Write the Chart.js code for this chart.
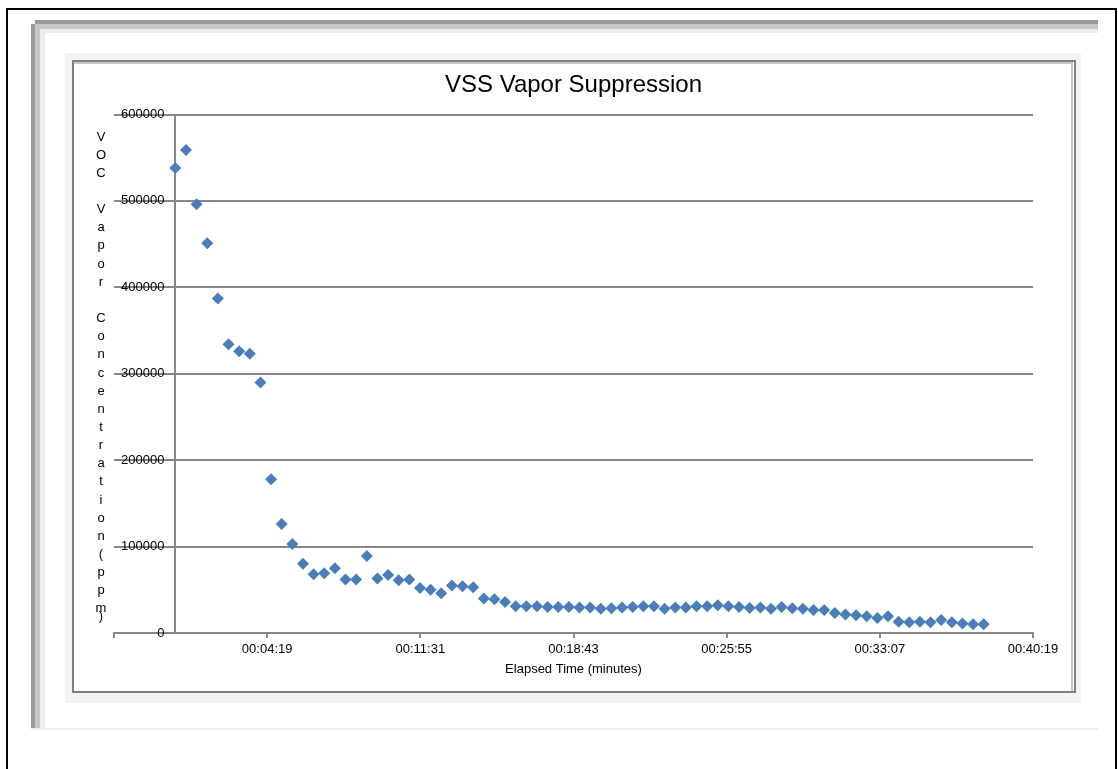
<!DOCTYPE html>
<html>
<head>
<meta charset="utf-8">
<title>VSS Vapor Suppression</title>
<script src="https://cdn.jsdelivr.net/npm/chart.js@4.4.1/dist/chart.umd.min.js"></script>
<style>
  html, body { margin: 0; padding: 0; background: #fff; }
  canvas { display: block; }
</style>
</head>
<body>
<canvas id="graficoVapor" width="1118" height="769"></canvas>
<script>
// tiempo transcurrido de cada lectura (segundos)
var segundos = [
  0, 30, 60, 90, 120, 150, 180, 210, 240, 270,
  300, 330, 360, 390, 420, 450, 480, 510, 540, 570,
  600, 630, 660, 690, 720, 750, 780, 810, 840, 870,
  900, 930, 960, 990, 1020, 1050, 1080, 1110, 1140, 1170,
  1200, 1230, 1260, 1290, 1320, 1350, 1380, 1410, 1440, 1470,
  1500, 1530, 1560, 1590, 1620, 1650, 1680, 1710, 1740, 1770,
  1800, 1830, 1860, 1890, 1920, 1950, 1980, 2010, 2040, 2070,
  2100, 2130, 2160, 2190, 2220, 2250, 2280
];

// concentracion de vapor VOC (ppm)
var vocPpm = [
  538000, 559000, 496000, 451000, 387000, 334000, 326000, 323000, 290000, 178000,
  126000, 103000, 80000, 68000, 69000, 75000, 62000, 62000, 89000, 63000,
  67000, 61000, 62000, 52000, 50000, 46000, 55000, 54000, 53000, 40000,
  39000, 36000, 31000, 31000, 31000, 30000, 30000, 30000, 29500, 29500,
  28000, 28500, 29500, 30000, 31000, 31000, 28000, 29500, 29500, 31000,
  31000, 32000, 31000, 30000, 29000, 29500, 28000, 30000, 28500, 28000,
  26500, 26500, 23000, 21500, 20500, 19500, 17500, 19500, 13000, 12500,
  13000, 12500, 15000, 12500, 11000, 10000, 10000
];

// marcas de los ejes
var marcasX = [-173, 259, 691, 1123, 1555, 1987, 2419];
var etiquetasX = ['', '00:04:19', '00:11:31', '00:18:43', '00:25:55', '00:33:07', '00:40:19'];
var marcasY = [0, 100000, 200000, 300000, 400000, 500000, 600000];

var tituloGrafico = 'VSS Vapor Suppression';
var tituloX = 'Elapsed Time (minutes)';
var tituloY = 'VOC Vapor Concentration (ppm)';

var fuente = "'Liberation Sans', Arial, sans-serif";
var gris = '#878787';
Chart.defaults.font.family = fuente;

// marcos grises tipo Excel detras del grafico
var marcoExcel = {
  id: 'marcoExcel',
  beforeDraw: function (chart) {
    var ctx = chart.ctx;
    ctx.save();
    ctx.fillStyle = '#fff';
    ctx.fillRect(0, 0, chart.width, chart.height);

    ctx.strokeStyle = '#000';
    ctx.lineWidth = 2;
    ctx.strokeRect(7, 9, 1109, 800);

    ctx.fillStyle = '#9a9a9a';
    ctx.fillRect(35, 20, 1063, 4);
    ctx.fillRect(31, 24, 4, 705);
    ctx.fillStyle = '#c6c6c6';
    ctx.fillRect(35, 24, 1063, 5);
    ctx.fillRect(35, 24, 5, 705);
    ctx.fillStyle = '#ededed';
    ctx.fillRect(40, 29, 1058, 4);
    ctx.fillRect(40, 29, 5, 700);
    ctx.fillRect(31, 728, 1067, 2);

    ctx.fillStyle = '#f3f3f3';
    ctx.fillRect(65, 53, 1016, 650);
    ctx.fillStyle = '#fff';
    ctx.fillRect(72, 60, 1004, 633);
    ctx.strokeStyle = '#c6c6c6';
    ctx.beginPath();
    ctx.moveTo(74, 63); ctx.lineTo(1072, 63); ctx.lineTo(1072, 691);
    ctx.stroke();
    ctx.strokeStyle = '#808080';
    ctx.strokeRect(73, 61, 1002, 631);
    ctx.restore();
  },
  afterDraw: function (chart) {
    // titulo del eje Y, una letra por renglon
    var ctx = chart.ctx;
    var letras = tituloY.replace(' (', '(').split('');
    var y = 137;
    ctx.save();
    ctx.font = '13px ' + fuente;
    ctx.fillStyle = '#000';
    ctx.textAlign = 'center';
    ctx.textBaseline = 'middle';
    letras.forEach(function (letra) {
      if (letra === ')') {
        ctx.fillText(letra, 101, y - 18.15 + 8);
        return;
      }
      if (letra !== ' ') ctx.fillText(letra, 101, y);
      y += 18.15;
    });
    ctx.restore();
  }
};

var datos = {
  datasets: [{
    label: 'VOC',
    data: segundos.map(function (s, i) { return { x: s, y: vocPpm[i] }; }),
    backgroundColor: '#4a7ebb',
    borderColor: '#4a7ebb',
    borderWidth: 0,
    pointStyle: 'rectRot',
    pointRadius: 6,
    showLine: false
  }]
};

var opciones = {
  responsive: false,
  animation: false,
  layout: { padding: { left: 114, right: 85, top: 0, bottom: 0 } },
  plugins: {
    legend: { display: false },
    tooltip: { enabled: false },
    title: {
      display: true,
      text: tituloGrafico,
      color: '#000',
      font: { size: 24, weight: 'normal' },
      padding: { top: 70.5, bottom: 15.2 }
    }
  },
  scales: {
    x: {
      type: 'linear',
      position: 'bottom',
      min: marcasX[0],
      max: marcasX[marcasX.length - 1],
      afterBuildTicks: function (scale) {
        scale.ticks = marcasX.map(function (v) { return { value: v }; });
      },
      afterFit: function (scale) { scale.height = 136; },
      grid: { drawOnChartArea: false, drawTicks: true, tickLength: 5, color: gris, lineWidth: 2 },
      border: { color: gris, width: 2 },
      ticks: {
        color: '#000',
        font: { size: 13 },
        padding: 4,
        maxRotation: 0,
        autoSkip: false,
        callback: function (v, i) { return etiquetasX[i]; }
      },
      title: {
        display: true,
        text: tituloX,
        color: '#000',
        font: { size: 13 },
        padding: { top: 0, bottom: 92 }
      }
    },
    y: {
      type: 'linear',
      position: { x: 0 },
      min: marcasY[0],
      max: marcasY[marcasY.length - 1],
      afterBuildTicks: function (scale) {
        scale.ticks = marcasY.map(function (v) { return { value: v }; });
      },
      grid: { color: gris, lineWidth: 2, drawTicks: true, tickLength: 12 },
      border: { color: gris, width: 2 },
      ticks: {
        color: '#000',
        font: { size: 13 },
        padding: 0,
        // espacios al final para separar la etiqueta del eje, como en Excel
        callback: function (v) { return String(v) + '   '; }
      }
    }
  }
};

var ctxVapor = document.getElementById('graficoVapor').getContext('2d');
new Chart(ctxVapor, {
  type: 'scatter',
  data: datos,
  options: opciones,
  plugins: [marcoExcel]
});
</script>
</body>
</html>
